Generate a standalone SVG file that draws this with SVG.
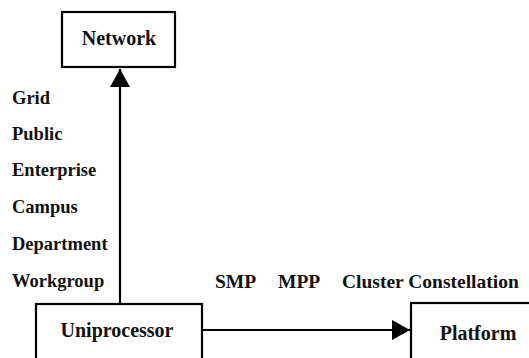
<svg xmlns="http://www.w3.org/2000/svg" width="529" height="358" viewBox="0 0 529 358">
<defs>
<style>
.box{fill:#fff;stroke:#000;stroke-width:2.2}
.lbl{font-family:"Liberation Serif","Times New Roman",serif;font-weight:bold;fill:#111}
.bl{font-size:20px}
.sl{font-size:18.5px}
.pl{font-size:19.5px}
.edge{stroke:#000;stroke-width:2.2;fill:none}
</style>
<marker id="ah" markerWidth="20" markerHeight="22" refX="18" refY="10" orient="auto" markerUnits="userSpaceOnUse">
<path d="M0,0 L18,10 L0,20 Z" fill="#000"/>
</marker>
</defs>
<rect width="529" height="358" fill="#fff"/>
<g id="connectors">
<line class="edge" x1="120" y1="304" x2="120" y2="69" marker-end="url(#ah)"/>
<line class="edge" x1="202" y1="330" x2="410" y2="330" marker-end="url(#ah)"/>
</g>
<g id="network">
<rect class="box" x="62" y="12" width="113" height="55"/>
<text class="lbl bl" x="119" y="45" text-anchor="middle">Network</text>
</g>
<g id="uniprocessor">
<rect class="box" x="36" y="304" width="166" height="70"/>
<text class="lbl bl" x="117" y="337" text-anchor="middle">Uniprocessor</text>
</g>
<g id="platform">
<rect class="box" x="411" y="303" width="140" height="70"/>
<text class="lbl bl" x="478" y="340" text-anchor="middle">Platform</text>
</g>
<g id="network-labels">
<text class="lbl sl" x="12" y="104">Grid</text>
<text class="lbl sl" x="12" y="140">Public</text>
<text class="lbl sl" x="12" y="176">Enterprise</text>
<text class="lbl sl" x="12" y="213">Campus</text>
<text class="lbl sl" x="12" y="250">Department</text>
<text class="lbl sl" x="12" y="287">Workgroup</text>
</g>
<g id="platform-labels">
<text class="lbl pl" x="215" y="288">SMP</text>
<text class="lbl pl" x="278" y="288">MPP</text>
<text class="lbl pl" x="342" y="288">Cluster Constellation</text>
</g>
</svg>
